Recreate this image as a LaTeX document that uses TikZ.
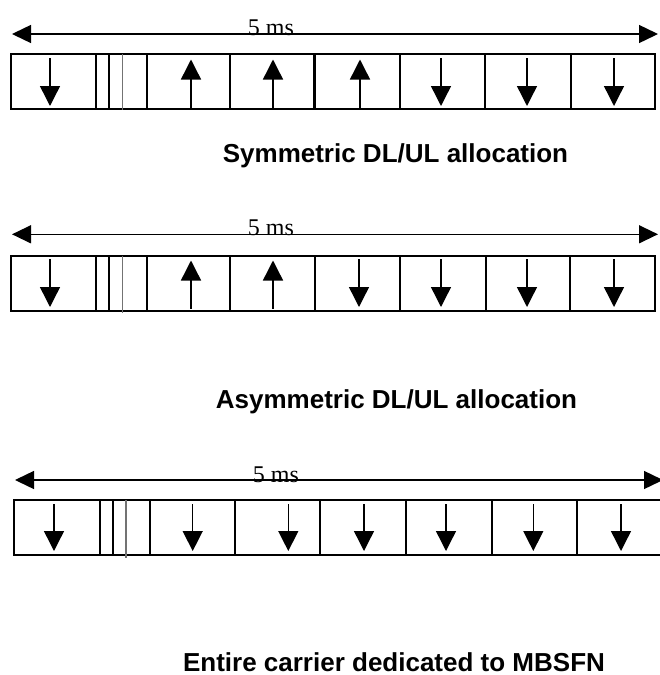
\documentclass[tikz,border=0pt]{standalone}
\usepackage{fontspec}
\setmainfont{Liberation Serif}
\setsansfont{Liberation Sans}
\usepackage{tikz}
\usetikzlibrary{arrows.meta}

\begin{document}
\begin{tikzpicture}[
		x=1pt, y=-1pt,
		frame/.style={draw, line width=1.8pt},
		divider/.style={line width=2.4pt},
		thinline/.style={line width=1.6pt},
		greyline/.style={line width=1.4pt, black!55},
		dl/.style={line width=1.4pt, -{Triangle[length=20pt,width=20pt]}},
		span/.style={line width=1.4pt, {Triangle[length=19pt,width=18pt]}-{Triangle[length=19pt,width=18pt]}},
		mstext/.style={inner sep=0pt, anchor=base, font=\fontsize{24}{28}\selectfont},
		caption/.style={inner sep=0pt, anchor=base, font=\sffamily\bfseries\fontsize{26}{30}\selectfont}
		]
		\useasboundingbox (0,0) rectangle (660,675);
		\clip (0,0) rectangle (660,675);

		% symmetric
		\coordinate (symleft) at (12,34);
		\coordinate (symright) at (658,34);
		\draw[span] (symleft) -- (symright);
		\node[mstext] (symms) at (271,35) {5 ms};
		\draw[frame] (11,54) rectangle (655,109);
		\foreach \x in {95.7,147,230,314.3,400,485,570.7}
			\draw[divider] (\x,54) -- (\x,109);
		\draw[thinline] (108.7,54) -- (108.7,109);
		\draw[greyline] (122.3,54) -- (122.3,110);
		\foreach \x in {50,441,527,614}
			\draw[dl] (\x,58) -- (\x,106);
		\foreach \x in {191,273,360}
			\draw[dl] (\x,107.5) -- (\x,59.5);
		\node[caption] (symcap) at (395.5,162) {Symmetric DL/UL allocation};

		% asymmetric
		\coordinate (asymleft) at (12,234.3);
		\coordinate (asymright) at (658,234.3);
		\draw[span] (asymleft) -- (asymright);
		\node[mstext] (asymms) at (271,235) {5 ms};
		\draw[frame] (11,255.7) rectangle (655,310.7);
		\foreach \x in {95.7,146.7,230,315,400,485.7,570}
			\draw[divider] (\x,255.7) -- (\x,310.7);
		\draw[thinline] (109,255.7) -- (109,310.7);
		\draw[greyline] (122.3,255.7) -- (122.3,312.5);
		\foreach \x in {50,359,441,527,614}
			\draw[dl] (\x,259) -- (\x,307);
		\foreach \x in {191,273}
			\draw[dl] (\x,308.5) -- (\x,260.5);
		\node[caption] (asymcap) at (396.5,408) {Asymmetric DL/UL allocation};

		% MBSFN
		\coordinate (mbsleft) at (15,480);
		\coordinate (mbsright) at (663,480);
		\draw[span] (mbsleft) -- (mbsright);
		\node[mstext] (mbsms) at (276,482) {5 ms};
		\draw[frame] (14,500) rectangle (664,555);
		\foreach \x in {100,150,235,320,406,491.7,576.7}
			\draw[divider] (\x,500) -- (\x,555);
		\draw[thinline] (112.7,500) -- (112.7,555);
		\draw[greyline] (126,500) -- (126,558);
		\foreach \x in {54,192.7,288.3,364,446,533.3,621}
			\draw[dl] (\x,504) -- (\x,551);
		\node[caption] (mbscap) at (394,671) {Entire carrier dedicated to MBSFN};
	\end{tikzpicture}
\end{document}
